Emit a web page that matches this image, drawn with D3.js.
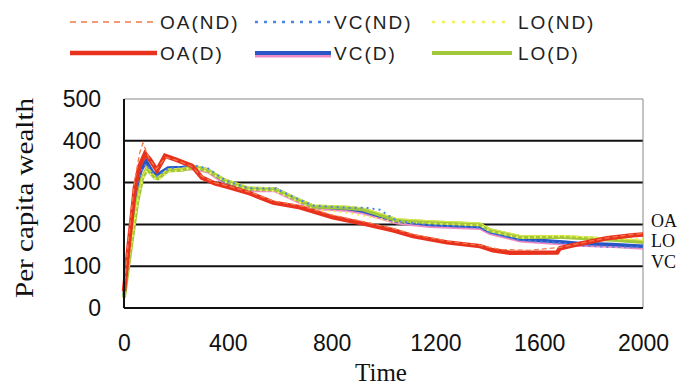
<!DOCTYPE html>
<html>
<head>
<meta charset="utf-8">
<script src="https://cdn.jsdelivr.net/npm/d3@7"></script>
<style>
  body { margin: 0; background: #fff; }
</style>
</head>
<body>
<div id="chart"></div>
<script>
// values: [time, per capita wealth]
var oaD = [[0,40],[15,131],[42,288],[60,340],[81,369],[100,355],[127,329],[158,364],[200,355],[262,340],[300,312],[350,298],[400,290],[486,274],[575,252],[678,241],[805,217],[936,200],[1037,186],[1114,172],[1245,157],[1372,148],[1422,138],[1487,132],[1669,133],[1680,143],[1730,150],[1861,167],[1961,174],[2000,176]];
var oaND = [[0,45],[15,150],[40,300],[60,370],[73,395],[95,360],[125,332],[160,360],[210,352],[262,338],[300,315],[350,300],[400,292],[486,277],[575,256],[678,245],[805,222],[936,205],[1037,190],[1114,176],[1245,160],[1372,150],[1450,140],[1560,138],[1680,145],[1760,155],[1861,168],[1961,176],[2000,178]];
var vcD = [[0,30],[20,150],[45,280],[65,330],[85,352],[110,325],[127,318],[170,335],[224,336],[274,338],[324,330],[389,303],[478,285],[582,285],[659,262],[729,243],[860,238],[921,232],[1052,208],[1179,200],[1372,195],[1410,183],[1526,165],[1692,158],[1746,155],[1884,152],[2000,148]];
var vcND = [[0,30],[20,145],[45,275],[65,325],[85,345],[110,322],[127,316],[170,333],[224,338],[274,340],[324,334],[389,306],[478,287],[582,286],[659,264],[729,245],[860,240],[930,240],[986,235],[1052,208],[1179,198],[1372,192],[1410,180],[1526,162],[1692,155],[1746,150],[1884,146],[2000,145]];
var loD = [[0,25],[23,131],[50,250],[70,310],[89,333],[119,312],[131,310],[170,329],[224,331],[274,338],[324,329],[389,305],[478,286],[582,284],[659,262],[729,243],[860,240],[921,236],[1052,210],[1179,205],[1372,200],[1410,186],[1526,170],[1692,170],[1884,163],[2000,158]];
var loND = [[0,28],[23,128],[50,245],[70,305],[89,328],[119,310],[131,306],[170,325],[224,330],[274,336],[324,326],[389,302],[478,283],[582,280],[659,258],[729,236],[860,228],[921,221],[1052,205],[1179,202],[1372,198],[1410,184],[1526,168],[1692,172],[1884,166],[2000,165]];

var xTicks = [0, 400, 800, 1200, 1600, 2000];
var yTicks = [0, 100, 200, 300, 400, 500];
var endLabels = [["OA", 208], ["LO", 161], ["VC", 109]];

var w = 683, h = 387;
var pLeft = 124, pRight = 643, pTop = 99, pBottom = 308;

var svg = d3.select("#chart").append("svg")
    .attr("width", w)
    .attr("height", h);

var x = d3.scaleLinear().domain([0, 2000]).range([pLeft, pRight]);
var y = d3.scaleLinear().domain([0, 500]).range([pBottom, pTop]);

// grid lines
svg.selectAll("line.grid")
    .data(yTicks.filter(function(d){ return d > 0 && d < 500; }))
    .enter()
    .append("line")
    .attr("class", "grid")
    .attr("x1", pLeft).attr("x2", pRight)
    .attr("y1", function(d){ return y(d); })
    .attr("y2", function(d){ return y(d); })
    .attr("stroke", "#111")
    .attr("stroke-width", 2);

// top and right border, thin grey
svg.append("path")
    .attr("d", "M" + pLeft + "," + y(500) + "H" + pRight + "V" + pBottom)
    .attr("fill", "none")
    .attr("stroke", "#888")
    .attr("stroke-width", 1);

var line = d3.line()
    .x(function(d){ return x(d[0]); })
    .y(function(d){ return y(d[1]); });

var shift = function(dy){
    return d3.line()
        .x(function(d){ return x(d[0]); })
        .y(function(d){ return y(d[1]) + dy; });
};

// series lines
svg.append("path").attr("d", shift(2)(vcD)).attr("fill", "none")
    .attr("stroke", "#f08ac4").attr("stroke-width", 3);
svg.append("path").attr("d", line(vcD)).attr("fill", "none")
    .attr("stroke", "#2856c4").attr("stroke-width", 3.5);
svg.append("path").attr("d", line(loD)).attr("fill", "none")
    .attr("stroke", "#a2c83a").attr("stroke-width", 4);
svg.append("path").attr("d", shift(-1.5)(loD)).attr("fill", "none")
    .attr("stroke", "#dbe84a").attr("stroke-width", 1);
svg.append("path").attr("d", line(loND)).attr("fill", "none")
    .attr("stroke", "#eef060").attr("stroke-width", 2)
    .attr("stroke-dasharray", "2,4");
svg.append("path").attr("d", line(vcND)).attr("fill", "none")
    .attr("stroke", "#4a86e8").attr("stroke-width", 2)
    .attr("stroke-dasharray", "2,4");
svg.append("path").attr("d", line(oaD)).attr("fill", "none")
    .attr("stroke", "#e8321e").attr("stroke-width", 4.5);
svg.append("path").attr("d", line(oaND)).attr("fill", "none")
    .attr("stroke", "#f27a4a").attr("stroke-width", 1.3)
    .attr("stroke-dasharray", "5,3");

// axes
var xAxis = d3.axisBottom(x).tickValues(xTicks).tickFormat(d3.format("d")).tickSize(0).tickPadding(27);
var yAxis = d3.axisLeft(y).tickValues(yTicks).tickFormat(d3.format("d")).tickSize(0).tickPadding(23);

var gx = svg.append("g").attr("transform", "translate(0," + pBottom + ")").call(xAxis);
var gy = svg.append("g").attr("transform", "translate(" + pLeft + ",0)").call(yAxis);

[gx, gy].forEach(function(g){
    g.select(".domain").attr("stroke", "#111").attr("stroke-width", 2);
    g.selectAll("text")
        .attr("font-family", "'Liberation Sans Narrow', 'Arial Narrow', 'Liberation Sans', sans-serif")
        .attr("font-size", 23)
        .attr("fill", "#111");
});
gx.select(".domain").attr("d", "M" + pLeft + ",0H" + pRight);
gy.select(".domain").attr("d", "M0," + y(500) + "V" + pBottom);

svg.append("text")
    .attr("x", 381).attr("y", 381)
    .attr("text-anchor", "middle")
    .attr("font-family", "'Liberation Serif', 'Times New Roman', serif")
    .attr("font-size", 25)
    .attr("fill", "#111")
    .text("Time");

svg.append("text")
    .attr("transform", "translate(33,198) rotate(-90)")
    .attr("text-anchor", "middle")
    .attr("font-family", "'Liberation Serif', 'Times New Roman', serif")
    .attr("font-size", 25)
    .attr("textLength", 200)
    .attr("lengthAdjust", "spacingAndGlyphs")
    .attr("fill", "#111")
    .text("Per capita wealth");

// labels at line ends
svg.selectAll("text.end")
    .data(endLabels)
    .enter()
    .append("text")
    .attr("class", "end")
    .attr("x", 651)
    .attr("y", function(d){ return y(d[1]) + 6; })
    .attr("font-family", "'Liberation Serif', 'Times New Roman', serif")
    .attr("font-size", 18)
    .attr("fill", "#111")
    .text(function(d){ return d[0]; });

// legend
var legend = [
    {name: "OA(ND)", x: 70, row: 0, color: "#f27a4a", width: 1.5, dash: "6,5"},
    {name: "VC(ND)", x: 255, row: 0, color: "#4a86e8", width: 2.5, dash: "3,6"},
    {name: "LO(ND)", x: 432, row: 0, color: "#eef060", width: 2.5, dash: "3,7"},
    {name: "OA(D)", x: 70, row: 1, color: "#e8321e", width: 4.5, dash: null},
    {name: "VC(D)", x: 255, row: 1, color: "#2856c4", width: 4, dash: null},
    {name: "LO(D)", x: 432, row: 1, color: "#a2c83a", width: 4, dash: null}
];

var lg = svg.selectAll("g.legend")
    .data(legend)
    .enter()
    .append("g")
    .attr("class", "legend")
    .attr("transform", function(d){ return "translate(" + d.x + "," + (22 + d.row * 31) + ")"; });

lg.filter(function(d){ return d.name == "VC(D)"; })
    .append("line")
    .attr("x1", 0).attr("x2", 76).attr("y1", 3).attr("y2", 3)
    .attr("stroke", "#f08ac4").attr("stroke-width", 3);

lg.append("line")
    .attr("x1", 0).attr("x2", function(d){ return d.x == 432 ? 80 : (d.x == 255 ? 76 : 87); })
    .attr("y1", 0).attr("y2", 0)
    .attr("stroke", function(d){ return d.color; })
    .attr("stroke-width", function(d){ return d.width; })
    .attr("stroke-dasharray", function(d){ return d.dash; });

lg.append("text")
    .attr("x", function(d){ return d.x == 432 ? 86 : (d.x == 255 ? 79 : 90); })
    .attr("y", 7)
    .attr("font-family", "'Liberation Sans Narrow', 'Arial Narrow', 'Liberation Sans', sans-serif")
    .attr("font-size", 19)
    .attr("letter-spacing", 2)
    .attr("fill", "#222")
    .text(function(d){ return d.name; });
</script>
</body>
</html>
